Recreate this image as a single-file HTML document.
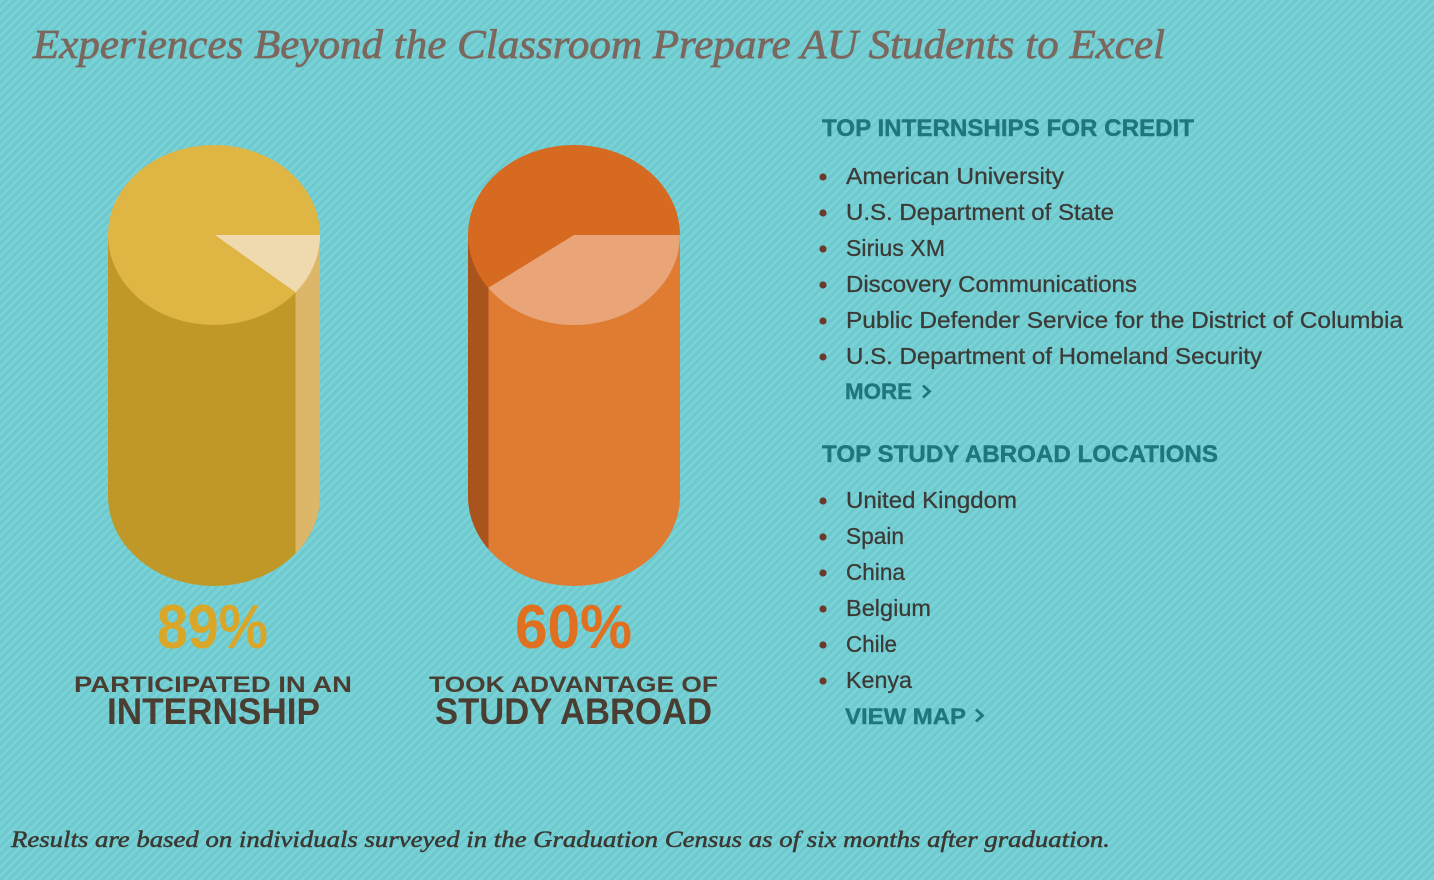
<!DOCTYPE html>
<html>
<head>
<meta charset="utf-8">
<style>
html,body{margin:0;padding:0;width:1434px;height:880px;overflow:hidden;background:#71cdd1;}
svg{display:block;}
.serif{font-family:"Liberation Serif",serif;font-style:italic;}
.sans{font-family:"Liberation Sans",sans-serif;}
</style>
</head>
<body>
<svg width="1434" height="880" viewBox="0 0 1434 880" xmlns="http://www.w3.org/2000/svg">
  <defs>
    <pattern id="stripes" width="6" height="12" patternUnits="userSpaceOnUse" patternTransform="rotate(45)">
      <rect x="0" y="0" width="6" height="12" fill="#6ec9ce"/>
      <rect x="0" y="0" width="3" height="12" fill="#79d2d6"/>
    </pattern>
    <clipPath id="body1">
      <path d="M108,235 L108,496 A106,90 0 0 0 320,496 L320,235 Z"/>
    </clipPath>
    <clipPath id="body2">
      <path d="M468,235 L468,496 A106,90 0 0 0 680,496 L680,235 Z"/>
    </clipPath>
  </defs>

  <rect x="0" y="0" width="1434" height="880" fill="url(#stripes)"/>

  <!-- Title -->
  <text class="serif" x="33" y="58" font-size="41" fill="#7b675d" stroke="#7b675d" stroke-width="0.7" textLength="1132" lengthAdjust="spacingAndGlyphs">Experiences Beyond the Classroom Prepare AU Students to Excel</text>

  <!-- Cylinder 1 -->
  <g clip-path="url(#body1)">
    <rect x="108" y="235" width="212" height="360" fill="#bf9827"/>
    <rect x="295.5" y="235" width="30" height="360" fill="#dcb769"/>
  </g>
  <ellipse cx="214" cy="235" rx="106" ry="90" fill="#dfb644"/>
  <path d="M215,235 L320,235 A106,90 0 0 1 295.7,292.4 Z" fill="#efdab0"/>

  <!-- Cylinder 2 -->
  <g clip-path="url(#body2)">
    <rect x="468" y="235" width="212" height="360" fill="#e07b32"/>
    <rect x="465" y="235" width="23.5" height="360" fill="#a9531d"/>
  </g>
  <ellipse cx="574" cy="235" rx="106" ry="90" fill="#d66a20"/>
  <path d="M574,235 L680,235 A106,90 0 0 1 488.2,287.9 Z" fill="#e9a578"/>

  <!-- Percentages -->
  <text class="sans" x="157" y="648" font-size="62" font-weight="bold" fill="#daa628" textLength="111" lengthAdjust="spacingAndGlyphs">89%</text>
  <text class="sans" x="515" y="648" font-size="62" font-weight="bold" fill="#e0701f" textLength="117" lengthAdjust="spacingAndGlyphs">60%</text>

  <!-- Labels -->
  <text class="sans" x="74" y="692" font-size="22.5" font-weight="bold" fill="#4a3e33" textLength="278" lengthAdjust="spacingAndGlyphs">PARTICIPATED IN AN</text>
  <text class="sans" x="107" y="724" font-size="37" font-weight="bold" fill="#4a3e33" textLength="213" lengthAdjust="spacingAndGlyphs">INTERNSHIP</text>
  <text class="sans" x="429" y="692" font-size="22.5" font-weight="bold" fill="#4a3e33" textLength="289" lengthAdjust="spacingAndGlyphs">TOOK ADVANTAGE OF</text>
  <text class="sans" x="435" y="724" font-size="37" font-weight="bold" fill="#4a3e33" textLength="277" lengthAdjust="spacingAndGlyphs">STUDY ABROAD</text>

  <!-- Right: internships -->
  <text class="sans" x="822" y="136" font-size="24.5" font-weight="bold" fill="#1f777d" stroke="#1f777d" stroke-width="0.4" textLength="372" lengthAdjust="spacingAndGlyphs">TOP INTERNSHIPS FOR CREDIT</text>
  <g fill="#6a3b2d">
    <circle cx="823" cy="177" r="3.6"/>
    <circle cx="823" cy="213" r="3.6"/>
    <circle cx="823" cy="249" r="3.6"/>
    <circle cx="823" cy="285" r="3.6"/>
    <circle cx="823" cy="321" r="3.6"/>
    <circle cx="823" cy="357" r="3.6"/>
  </g>
  <g class="sans" font-size="23.5" fill="#3c3a36" stroke="#3c3a36" stroke-width="0.3">
    <text x="846" y="184" textLength="218" lengthAdjust="spacingAndGlyphs">American University</text>
    <text x="846" y="220" textLength="268" lengthAdjust="spacingAndGlyphs">U.S. Department of State</text>
    <text x="846" y="256" textLength="99" lengthAdjust="spacingAndGlyphs">Sirius XM</text>
    <text x="846" y="292" textLength="291" lengthAdjust="spacingAndGlyphs">Discovery Communications</text>
    <text x="846" y="328" textLength="557" lengthAdjust="spacingAndGlyphs">Public Defender Service for the District of Columbia</text>
    <text x="846" y="364" textLength="416" lengthAdjust="spacingAndGlyphs">U.S. Department of Homeland Security</text>
  </g>
  <text class="sans" x="845" y="399" font-size="22.5" font-weight="bold" fill="#1f777d" stroke="#1f777d" stroke-width="0.4" textLength="67" lengthAdjust="spacingAndGlyphs">MORE</text>
  <polyline points="923,385.5 929.5,391.5 923,397.5" fill="none" stroke="#1f777d" stroke-width="2.8"/>

  <!-- Right: study abroad -->
  <text class="sans" x="822" y="462" font-size="24.5" font-weight="bold" fill="#1f777d" stroke="#1f777d" stroke-width="0.4" textLength="396" lengthAdjust="spacingAndGlyphs">TOP STUDY ABROAD LOCATIONS</text>
  <g fill="#6a3b2d">
    <circle cx="823" cy="501" r="3.6"/>
    <circle cx="823" cy="537" r="3.6"/>
    <circle cx="823" cy="573" r="3.6"/>
    <circle cx="823" cy="609" r="3.6"/>
    <circle cx="823" cy="645" r="3.6"/>
    <circle cx="823" cy="681" r="3.6"/>
  </g>
  <g class="sans" font-size="23.5" fill="#3c3a36" stroke="#3c3a36" stroke-width="0.3">
    <text x="846" y="508" textLength="171" lengthAdjust="spacingAndGlyphs">United Kingdom</text>
    <text x="846" y="544" textLength="58" lengthAdjust="spacingAndGlyphs">Spain</text>
    <text x="846" y="580" textLength="59" lengthAdjust="spacingAndGlyphs">China</text>
    <text x="846" y="616" textLength="85" lengthAdjust="spacingAndGlyphs">Belgium</text>
    <text x="846" y="652" textLength="51" lengthAdjust="spacingAndGlyphs">Chile</text>
    <text x="846" y="688" textLength="66" lengthAdjust="spacingAndGlyphs">Kenya</text>
  </g>
  <text class="sans" x="845" y="724" font-size="22.5" font-weight="bold" fill="#1f777d" stroke="#1f777d" stroke-width="0.4" textLength="121" lengthAdjust="spacingAndGlyphs">VIEW MAP</text>
  <polyline points="976,709.5 982.5,715.5 976,721.5" fill="none" stroke="#1f777d" stroke-width="2.8"/>

  <!-- Footnote -->
  <text class="serif" x="11" y="847" font-size="23" fill="#3b3833" stroke="#3b3833" stroke-width="0.5" textLength="1099" lengthAdjust="spacingAndGlyphs">Results are based on individuals surveyed in the Graduation Census as of six months after graduation.</text>
</svg>
</body>
</html>
